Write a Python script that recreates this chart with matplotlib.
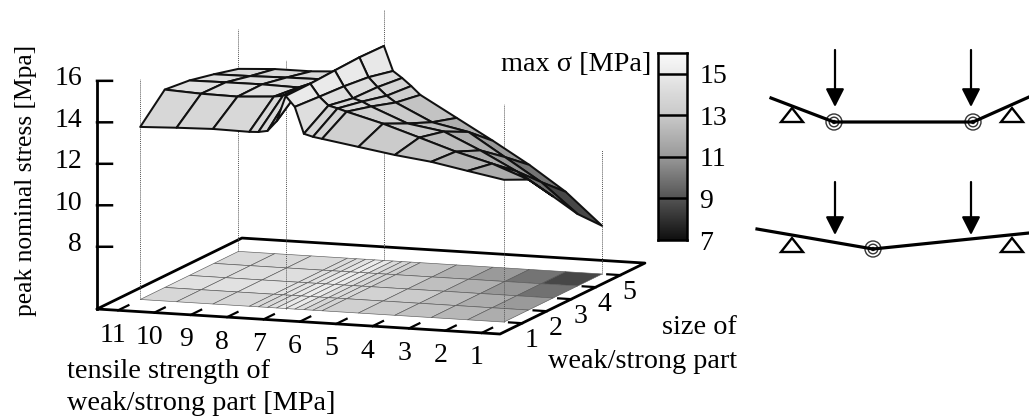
import numpy as np
import matplotlib
matplotlib.use('Agg')
import matplotlib.pyplot as plt
from matplotlib.colors import LinearSegmentedColormap, Normalize
from matplotlib.patches import Circle, Polygon
from mpl_toolkits.mplot3d import proj3d

plt.rcParams['font.family'] = ['Liberation Serif', 'DejaVu Serif']

W, H = 1029, 417
FS = 20

# Surface data, one list per size value
tensile = [11, 10, 9, 8, 7.75, 7.5, 7.25, 7, 6.75, 6.5, 6.25, 6, 5, 4, 3, 2, 1]
size = [1, 2, 3, 4, 5]
stress_1 = [13.32, 13.39, 13.44, 13.41, 13.43, 13.51, 14.0, 15.25, 14.75, 13.48, 13.36, 13.29, 13.01, 12.73, 12.51, 12.18, 11.86]
stress_2 = [14.54, 14.45, 14.42, 14.53, 14.6, 14.83, 15.04, 15.26, 14.66, 14.26, 14.15, 14.02, 13.55, 12.99, 12.42, 11.95, 11.29]
stress_3 = [14.4, 14.42, 14.43, 14.39, 14.45, 14.6, 14.85, 15.32, 14.58, 14.03, 13.9, 13.69, 12.98, 12.7, 11.9, 11.0, 9.9]
stress_4 = [14.12, 14.14, 14.18, 14.2, 14.25, 14.45, 14.8, 15.37, 14.44, 13.99, 13.6, 13.3, 12.46, 12.1, 11.0, 9.9, 8.47]
stress_5 = [13.8, 13.9, 13.9, 14.0, 14.0, 14.2, 14.65, 15.34, 14.16, 13.85, 13.49, 13.09, 12.09, 11.09, 10.04, 8.85, 7.32]

# Dotted drop lines at the corners of the surface
drop_x = [11, 11, 7, 7, 1, 1]
drop_y = [1, 5, 1, 5, 1, 5]
drop_top = [15.65, 15.7, 17.0, 17.05, 15.5, 11.0]

x_ticks = [11, 10, 9, 8, 7, 6, 5, 4, 3, 2, 1]
y_ticks = [1, 2, 3, 4, 5]
z_ticks = [8, 10, 12, 14, 16]
cb_ticks = [7, 9, 11, 13, 15]

# Axis ranges
x_lo, x_hi = 0.5, 11.58
y_lo, y_hi = 0.1, 6.0
z_lo, z_hi = 5.0, 16.0

# Grey levels of the palette
gray_vals = [7, 9, 11, 13, 14, 15, 16]
gray_lev = [0.06, 0.33, 0.60, 0.79, 0.85, 0.92, 0.98]

# Sketches on the right (picture pixels)
beam_a_x = [771, 834, 973, 1029]
beam_a_y = [98, 122, 122, 97]
beam_b_x = [757, 873, 1029]
beam_b_y = [229, 249, 233]
hinges_a = [834, 973]
hinge_b = 873
support_x = [792, 1012]
load_x = [835, 971]

norm = Normalize(7, 16)
cmap = LinearSegmentedColormap.from_list(
    'grey', [(norm(v), (g, g, g)) for v, g in zip(gray_vals, gray_lev)])

X, Y = np.meshgrid(tensile, size)
Z = np.array([stress_1, stress_2, stress_3, stress_4, stress_5])

fig = plt.figure(figsize=(W / 100, H / 100), dpi=100)

ax = fig.add_axes([0.1, 0.0, 800 / W, 800 / H], projection='3d', proj_type='ortho',
                  computed_zorder=False)
ax.set_axis_off()
ax.patch.set_alpha(0)
ax.view_init(elev=10.04, azim=-70.4)
ax.set_xlim(x_hi, x_lo)
ax.set_ylim(y_lo, y_hi)
ax.set_zlim(z_lo, z_hi)
ax.set_box_aspect((427.8, 432.0, 231.7))


def screen(x, y, z):
    xs, ys, _ = proj3d.proj_transform(x, y, z, ax.get_proj())
    return ax.transData.transform((xs, ys))


# Fit the box on the picture: front edge runs from (97,309) to (500,334)
ax.apply_aspect()
k = 403.0 / (screen(x_lo, y_lo, z_lo)[0] - screen(x_hi, y_lo, z_lo)[0])
ax.set_position([0.1, 0.0, 800 * k / W, 800 * k / H])
ax.apply_aspect()
px = screen(x_hi, y_lo, z_lo)
pos = ax.get_position()
ax.set_position([pos.x0 + (97 - px[0]) / W, pos.y0 + (H - 309 - px[1]) / H, pos.width, pos.height])
ax.apply_aspect()

# Base frame
ax.plot([x_hi, x_lo, x_lo, x_hi, x_hi], [y_lo, y_lo, y_hi, y_hi, y_lo], [z_lo] * 5,
        color='k', lw=2.0, zorder=1, solid_capstyle='round')
ax.plot([x_hi, x_hi], [y_lo, y_lo], [z_lo, 16], color='k', lw=2.0, zorder=1)

# Map on the base
cells = (Z[:-1, :-1] + Z[1:, :-1] + Z[:-1, 1:] + Z[1:, 1:]) / 4
ax.plot_surface(X, Y, np.full_like(Z, z_lo), rstride=1, cstride=1, facecolors=cmap(norm(cells)),
                edgecolor='#5a5a5a', linewidth=0.45, shade=False, zorder=2)

for x0, y0, top in zip(drop_x, drop_y, drop_top):
    ax.plot([x0, x0], [y0, y0], [z_lo, top], color='#555555', lw=0.7, ls=(0, (1, 1)), zorder=3)

# Surface
ax.plot_surface(X, Y, Z, rstride=1, cstride=1, cmap=cmap, norm=norm,
                edgecolor='#111111', linewidth=1.45, shade=False, zorder=4)

# Colour box
cax = fig.add_axes([658 / W, 1 - 240 / H, 29 / W, 187 / H])
grad = np.linspace(7, 16, 256).reshape(-1, 1)
cax.imshow(grad, origin='lower', extent=[0, 1, 7, 16], aspect='auto', cmap=cmap, norm=norm)
cax.hlines(cb_ticks[1:], 0, 1, color='k', lw=1.8)
cax.set_xticks([])
cax.yaxis.tick_right()
cax.set_yticks(cb_ticks)
cax.tick_params(axis='y', length=0, labelsize=FS, pad=9)
for s in cax.spines.values():
    s.set_linewidth(1.8)

# Overlay in picture pixels for the captions and the sketches
over = fig.add_axes([0, 0, 1, 1])
over.set_xlim(0, W)
over.set_ylim(H, 0)
over.axis('off')


def tick_text(x, y, z, dx, dy, label, ha='center'):
    p = screen(x, y, z)
    over.text(p[0] + dx, H - p[1] + dy, label, ha=ha, va='center', fontsize=FS)


# Ticks and labels
for v in z_ticks:
    ax.plot([x_hi, x_hi - 0.365], [y_lo, y_lo + 0.07], [v, v], color='k', lw=1.8, zorder=1)
    tick_text(x_hi, y_lo, v, -15, -2, str(v), ha='right')
for v in x_ticks:
    ax.plot([v, v], [y_lo, y_lo + 0.42], [z_lo, z_lo], color='k', lw=1.6, zorder=1)
    tick_text(v, y_lo, z_lo, -5, 25, str(v))
for v in y_ticks:
    ax.plot([x_lo, x_lo + 0.36], [v, v], [z_lo, z_lo], color='k', lw=1.6, zorder=1)
    tick_text(x_lo, v, z_lo, 9, 17, str(v))

over.text(26, 180.5, 'peak nominal stress [Mpa]', rotation=90, ha='center', va='center', fontsize=18.4)
over.text(67, 372, 'tensile strength of', ha='left', va='center', fontsize=FS + 0.3)
over.text(67, 403, 'weak/strong part [MPa]', ha='left', va='center', fontsize=FS + 0.3)
over.text(737, 328, 'size of', ha='right', va='center', fontsize=FS + 0.3)
over.text(737, 362, 'weak/strong part', ha='right', va='center', fontsize=FS + 0.3)
over.text(651, 64, 'max σ [MPa]', ha='right', va='center', fontsize=FS + 0.3)


def hinge(x, y):
    over.add_patch(Circle((x, y), 8, fill=False, ec='#333333', lw=1.0))
    over.add_patch(Circle((x, y), 4.8, fill=False, ec='#333333', lw=1.0))
    over.add_patch(Circle((x, y), 2.2, fc='#222222', ec='none'))


def support(x, y_apex):
    over.add_patch(Polygon([(x, y_apex), (x - 11, y_apex + 14), (x + 11, y_apex + 14)],
                           closed=True, fill=False, ec='k', lw=1.7))


def load(x, y0, y1):
    over.annotate('', xy=(x, y1), xytext=(x, y0),
                  arrowprops=dict(arrowstyle='-|>,head_width=0.28,head_length=0.55', color='k',
                                  lw=1.6, mutation_scale=20, shrinkA=0, shrinkB=0))


over.plot(beam_a_x, beam_a_y, color='k', lw=2.3, clip_on=True)
over.plot(beam_b_x, beam_b_y, color='k', lw=2.3, clip_on=True)
for x0 in hinges_a:
    hinge(x0, 122)
hinge(hinge_b, 249)
for x0 in support_x:
    support(x0, 108)
    support(x0, 238)
for x0 in load_x:
    load(x0, 50, 107)
    load(x0, 182, 235)

fig.savefig('out.png', dpi=100)
